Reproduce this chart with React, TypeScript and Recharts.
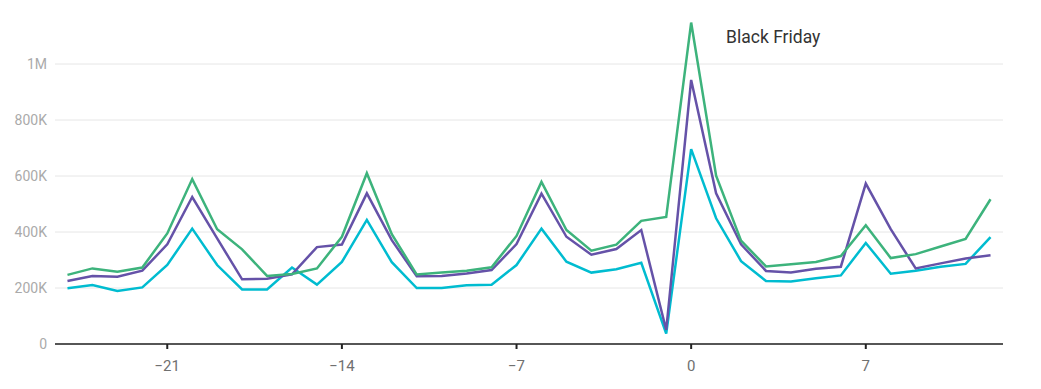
import React from "react";
import { LineChart, Line, XAxis, YAxis, CartesianGrid, ReferenceDot } from "recharts";

const days = [-25, -24, -23, -22, -21, -20, -19, -18, -17, -16, -15, -14, -13, -12, -11, -10, -9, -8, -7, -6, -5, -4, -3, -2, -1, 0, 1, 2, 3, 4, 5, 6, 7, 8, 9, 10, 11, 12];
const greenK = [247, 270, 258, 273, 395, 589, 410, 338, 243, 250, 270, 383, 610, 392, 248, 255, 262, 274, 386, 579, 407, 333, 355, 440, 454, 1148, 601, 369, 277, 285, 293, 314, 424, 307, 321, 348, 375, 517];
const purpleK = [225, 243, 240, 262, 356, 525, 377, 231, 233, 249, 346, 355, 538, 371, 242, 243, 252, 264, 357, 537, 383, 319, 339, 407, 50, 943, 538, 356, 261, 255, 269, 276, 573, 410, 270, 288, 305, 317];
const cyanK = [199, 211, 189, 202, 282, 412, 282, 195, 195, 273, 212, 293, 443, 292, 200, 200, 210, 212, 282, 412, 294, 255, 267, 290, 37, 696, 449, 296, 225, 223, 235, 245, 361, 251, 262, 276, 286, 382];
const xTicks = [-21, -14, -7, 0, 7];
const yTicks = [0, 200000, 400000, 600000, 800000, 1000000];
const annotation = { x: 1.4, y: 1100000, text: "Black Friday" };

const data = days.map((d, i) => ({
  day: d,
  green: greenK[i] * 1000,
  purple: purpleK[i] * 1000,
  cyan: cyanK[i] * 1000,
}));

const fmtY = (v: number) => (v === 0 ? "0" : v >= 1000000 ? `${v / 1000000}M` : `${v / 1000}K`);
const fmtX = (v: number) => (v < 0 ? "\u2212" + Math.abs(v) : String(v));

const AnnLabel = (props: any) => {
  const { viewBox } = props;
  const x = viewBox.x + (viewBox.width || 0) / 2;
  const y = viewBox.y + (viewBox.height || 0) / 2;
  return (
    <text x={x} y={y + 2} textAnchor="start" dominantBaseline="middle" fontSize={17.5} fill="#333" fontFamily="Roboto">
      {annotation.text}
    </text>
  );
};

export default function App() {
  return (
    <div style={{ fontFamily: "Roboto" }}>
      <LineChart width={1025} height={373} data={data} margin={{ top: 0, right: 30, bottom: 7, left: 0 }}>
        <CartesianGrid horizontal vertical={false} stroke="#e6e6e6" strokeWidth={1} syncWithTicks />
        <XAxis
          dataKey="day"
          type="number"
          domain={[-25.5, 12.5]}
          ticks={xTicks}
          tickFormatter={fmtX}
          axisLine={{ stroke: "#222", strokeWidth: 1.5 }}
          tickLine={{ stroke: "#222", strokeWidth: 2 }}
          tickSize={5}
          tickMargin={11}
          height={30}
          tick={{ fill: "#707070", fontSize: 15, fontFamily: "Roboto" }}
        />
        <YAxis
          type="number"
          domain={[0, 1200000]}
          ticks={yTicks}
          tickFormatter={fmtY}
          axisLine={false}
          tickLine={false}
          width={47}
          tick={{ fill: "#aaa", fontSize: 14, fontFamily: "Roboto" }}
        />
        <Line type="linear" dataKey="cyan" stroke="#00bcd0" strokeWidth={2.5} dot={false} isAnimationActive={false} />
        <Line type="linear" dataKey="purple" stroke="#6552a8" strokeWidth={2.5} dot={false} isAnimationActive={false} />
        <Line type="linear" dataKey="green" stroke="#3db37c" strokeWidth={2.5} dot={false} isAnimationActive={false} />
        <ReferenceDot x={annotation.x} y={annotation.y} r={0} fill="none" stroke="none" label={<AnnLabel />} />
      </LineChart>
    </div>
  );
}
